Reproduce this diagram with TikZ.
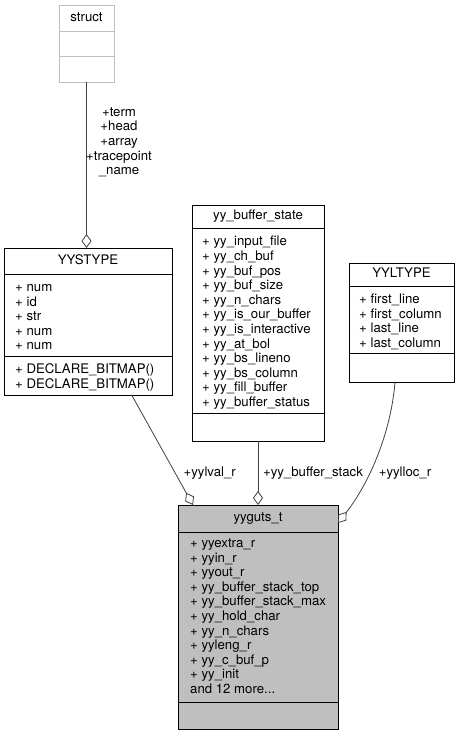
\documentclass[tikz,border=0pt]{standalone}
\usepackage{fontspec}
\setmainfont{TeX Gyre Heros}
\usetikzlibrary{arrows.meta,calc}
\definecolor{edgegray}{HTML}{404040}
\definecolor{lightborder}{HTML}{BFBFBF}
\definecolor{gutsfill}{HTML}{BFBFBF}
\begin{document}
\begin{tikzpicture}[x=1pt,y=-1pt,
  cls/.style={draw=black, line width=0.8pt, anchor=north west, inner sep=0pt, outer sep=0pt, fill=white},
  sep/.style={draw=black, line width=0.8pt},
  txt/.style={inner sep=0pt, font=\fontsize{13.2}{14.6}\selectfont, text height=9.5pt, text depth=2.7pt},
  row/.style={txt, anchor=west},
  ttl/.style={txt, anchor=center},
  conn/.style={draw=edgegray, line width=0.8pt},
  agg/.style={conn, -{Diamond[open, length=14pt, width=10pt, line width=0.8pt]}},
  lbl/.style={txt, anchor=center, align=center}
]
\useasboundingbox (0,0) rectangle (459,735);

% ---- struct ----
\node[cls, draw=lightborder, minimum width=55pt, minimum height=77pt] (st) at (59,5) {};
\draw[draw=lightborder, line width=0.8pt] (59,31.7) -- (114,31.7) (59,56.7) -- (114,56.7);
\node[ttl] (sttitle) at (86.5,18.5) {struct};

% ---- YYSTYPE ----
\node[cls, minimum width=168pt, minimum height=147pt] (yys) at (4,248) {};
\node[ttl] (yystitle) at (88,261) {YYSTYPE};
\draw[sep] (4,274) -- (172,274) (4,356.4) -- (172,356.4);
\foreach \t [count=\i from 0] in {+ num, + id, + str, + num, + num}
  \node[row] (yysf\i) at (15,{288+14.6*\i}) {\t};
\foreach \t [count=\i from 0] in {+ DECLARE\_BITMAP(), + DECLARE\_BITMAP()}
  \node[row] (yysm\i) at (15,{370.4+14.6*\i}) {\t};

% ---- yy_buffer_state ----
\node[cls, minimum width=132pt, minimum height=236pt] (bs) at (192,205) {};
\node[ttl] (bstitle) at (258,216.5) {yy\_buffer\_state};
\draw[sep] (192,228.5) -- (324,228.5) (192,413) -- (324,413);
\foreach \t [count=\i from 0] in {+ yy\_input\_file, + yy\_ch\_buf, + yy\_buf\_pos, + yy\_buf\_size,
  + yy\_n\_chars, + yy\_is\_our\_buffer, + yy\_is\_interactive, + yy\_at\_bol,
  + yy\_bs\_lineno, + yy\_bs\_column, + yy\_fill\_buffer, + yy\_buffer\_status}
  \node[row] (bsf\i) at (202,{242.5+14.6*\i}) {\t};

% ---- YYLTYPE ----
\node[cls, minimum width=105pt, minimum height=119pt] (lt) at (349,263) {};
\node[ttl] (lttitle) at (401.5,274.5) {YYLTYPE};
\draw[sep] (349,286) -- (454,286) (349,353.8) -- (454,353.8);
\foreach \t [count=\i from 0] in {+ first\_line, + first\_column, + last\_line, + last\_column}
  \node[row] (ltf\i) at (359,{300+14.6*\i}) {\t};

% ---- yyguts_t ----
\node[cls, fill=gutsfill, minimum width=160pt, minimum height=224pt] (guts) at (178,505) {};
\node[ttl] (gutstitle) at (258,518.5) {yyguts\_t};
\draw[sep] (178,532) -- (338,532) (178,702) -- (338,702);
\foreach \t [count=\i from 0] in {+ yyextra\_r, + yyin\_r, + yyout\_r, + yy\_buffer\_stack\_top,
  + yy\_buffer\_stack\_max, + yy\_hold\_char, + yy\_n\_chars, + yyleng\_r,
  + yy\_c\_buf\_p, + yy\_init}
  \node[row] (gutsf\i) at (190,{544+14.6*\i}) {\t};
\node[row] (gutsmore) at (190,{544+14.6*10}) {and 12 more.{}.{}.};

% ---- connectors ----
\draw[agg] (st.south) -- (st.south |- yys.north);
\draw[agg] ($(yys.south west)+(127.7,0)$) -- ($(guts.north west)+(15,0)$);
\draw[agg] (bs.south) -- (guts.north);
\draw[agg] ($(lt.south)+(-6.5,0)$) .. controls (391,432) and (370,482) .. ($(guts.north east)+(0,18)$);

% ---- labels ----
\foreach \t [count=\i from 0] in {+term, +head, +array, +tracepoint, \_name}
  \node[lbl] (stl\i) at (119,{113+14.6*\i}) {\t};
\node[lbl] (lyylval) at (209.7,473) {+yylval\_r};
\node[lbl] (lbufstack) at (313,473) {+yy\_buffer\_stack};
\node[lbl] (lyylloc) at (405,473) {+yylloc\_r};
\end{tikzpicture}
\end{document}
